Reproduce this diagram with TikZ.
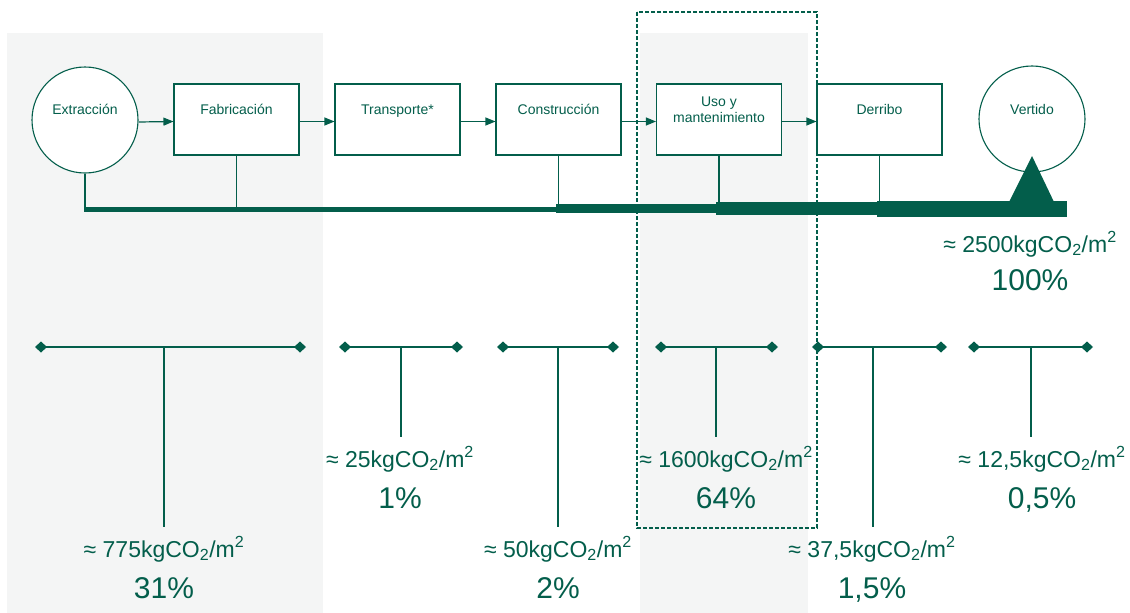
\documentclass[tikz,border=0pt]{standalone}
\usepackage{fontspec}
\setmainfont{Liberation Sans}
\usetikzlibrary{arrows.meta}
\definecolor{g}{HTML}{035E4B}
\definecolor{bg}{HTML}{F4F5F5}
\tikzset{
  box/.style={draw=g, line width=1.1pt, fill=white, minimum width=125pt, minimum height=71pt, inner sep=0pt},
  circ/.style={circle, draw=g, line width=1.1pt, fill=white, minimum size=106pt, inner sep=0pt},
  btxt/.style={text=g, font=\fontsize{14}{16}\selectfont, anchor=base, inner sep=0pt},
  flow/.style={draw=g, line width=1.2pt, -{Triangle[length=10pt,width=8pt]}},
  stem/.style={draw=g, line width=1.3pt},
  tbar/.style={draw=g, line width=1.6pt, {Diamond[length=12pt,width=11pt]}-{Diamond[length=12pt,width=11pt]}},
  tstem/.style={draw=g, line width=1.3pt},
  val/.style={text=g, font=\fontsize{23}{27}\selectfont, anchor=base, inner sep=0pt},
  pct/.style={text=g, font=\fontsize{30}{34}\selectfont, anchor=base, inner sep=0pt},
  frame/.style={draw=g, line width=1.8pt, dash pattern=on 4pt off 2pt},
}
\newcommand{\kgco}[1]{≈ #1kgCO\textsubscript{2}/m\textsuperscript{2}}
\begin{document}
\begin{tikzpicture}[x=1pt,y=-1pt]
\useasboundingbox (0,0) rectangle (1130,613);
% backgrounds
\fill[bg] (7,33) rectangle (323,613);
\fill[bg] (640,33) rectangle (808,613);
% process nodes
\node[circ] (ext) at (85,120) {};
\node[box] (fab) at (236.5,119.5) {};
\node[box] (tra) at (397.5,119.5) {};
\node[box] (con) at (558.5,119.5) {};
\node[box] (uso) at (719,119.5) {};
\node[box] (der) at (879.5,119.5) {};
\node[circ] (ver) at (1032,119) {};
\node[btxt] (extT) at (85,114) {Extracción};
\node[btxt] (fabT) at (236.5,114) {Fabricación};
\node[btxt] (traT) at (397.5,114) {Transporte*};
\node[btxt] (conT) at (558.5,114) {Construcción};
\node[btxt] (usoT1) at (719,106) {Uso y};
\node[btxt] (usoT2) at (719,122.5) {mantenimiento};
\node[btxt] (derT) at (879.5,114) {Derribo};
\node[btxt] (verT) at (1032,114) {Vertido};
% flow arrows
\draw[flow] ([yshift=-2pt]ext.east) -- ([yshift=-2pt]fab.west);
\draw[flow] ([yshift=-2pt]fab.east) -- ([yshift=-2pt]tra.west);
\draw[flow] ([yshift=-2pt]tra.east) -- ([yshift=-2pt]con.west);
\draw[flow] ([yshift=-2pt]con.east) -- ([yshift=-2pt]uso.west);
\draw[flow] ([yshift=-2pt]uso.east) -- ([yshift=-2pt]der.west);
% accumulation bar
\coordinate (barY) at (0,209);
\draw[stem] (ext.south) -- (ext.south |- barY);
\draw[stem] (fab.south) -- (fab.south |- barY);
\draw[stem] (con.south) -- (con.south |- barY);
\draw[stem] (uso.south) -- (uso.south |- barY);
\draw[stem] (der.south) -- (der.south |- barY);
\fill[g] (84.4,206.7) rectangle (556,211.7);
\fill[g] (556,204.3) rectangle (716,213.3);
\fill[g] (716,202.2) rectangle (877,215);
\fill[g] (877,201) rectangle (1067,217);
\fill[g] (1032,156) -- (1054,202) -- (1009,202) -- cycle;
\node[val] (tot) at (1030,252) {\kgco{2500}};
\node[pct] (totP) at (1030,290) {100\%};
% T markers
\coordinate (t1l) at (35,347); \coordinate (t1r) at (306,347);
\coordinate (t1m) at (164,347); \coordinate (t1b) at (164,527);
\coordinate (t2l) at (339,347); \coordinate (t2r) at (463,347);
\coordinate (t2m) at (401,347); \coordinate (t2b) at (401,437);
\coordinate (t3l) at (497,347); \coordinate (t3r) at (619,347);
\coordinate (t3m) at (558,347); \coordinate (t3b) at (558,527);
\coordinate (t4l) at (655,347); \coordinate (t4r) at (778,347);
\coordinate (t4m) at (716,347); \coordinate (t4b) at (716,437);
\coordinate (t5l) at (812,347); \coordinate (t5r) at (947,347);
\coordinate (t5m) at (873,347); \coordinate (t5b) at (873,527);
\coordinate (t6l) at (968,347); \coordinate (t6r) at (1093,347);
\coordinate (t6m) at (1031,347); \coordinate (t6b) at (1031,437);
\foreach \i in {1,...,6}{
  \draw[tbar] (t\i l) -- (t\i r);
  \draw[tstem] (t\i m) -- (t\i b);
}
\node[val] (v1) at (164,557) {\kgco{775}};
\node[pct] (p1) at (164,598) {31\%};
\node[val] (v2) at (400,467) {\kgco{25}};
\node[pct] (p2) at (400,508) {1\%};
\node[val] (v3) at (558,557) {\kgco{50}};
\node[pct] (p3) at (558,598) {2\%};
\node[val] (v4) at (726,467) {\kgco{1600}};
\node[pct] (p4) at (726,508) {64\%};
\node[val] (v5) at (872,557) {\kgco{37,5}};
\node[pct] (p5) at (872,598) {1,5\%};
\node[val] (v6) at (1042,467) {\kgco{12,5}};
\node[pct] (p6) at (1042,508) {0,5\%};
% highlighted frame
\draw[frame] (637,12) rectangle (817,528);
\end{tikzpicture}
\end{document}
